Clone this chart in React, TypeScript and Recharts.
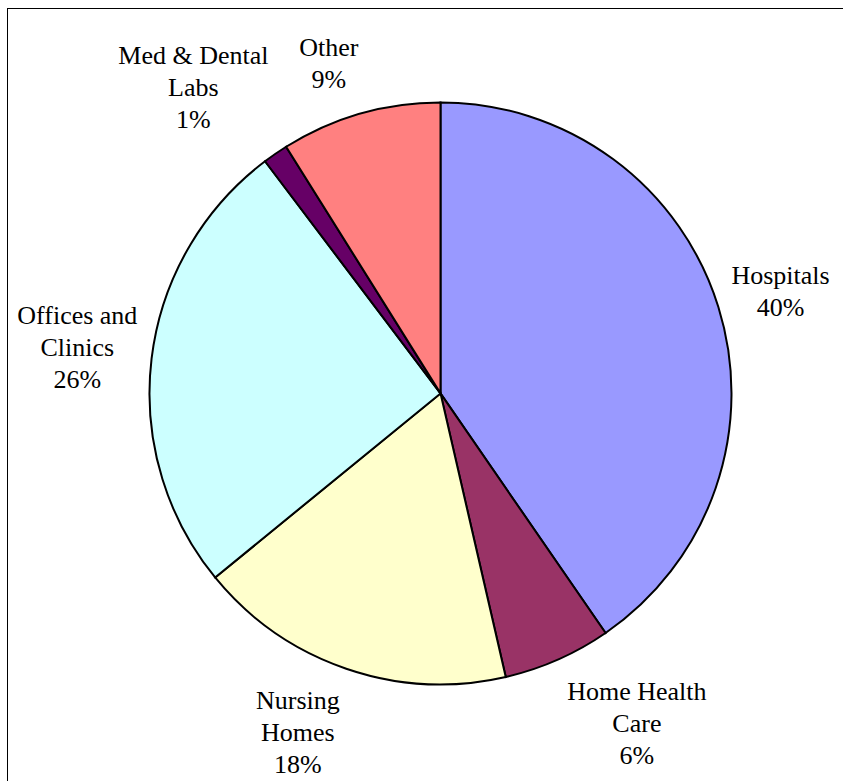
import { PieChart, Pie, Cell } from 'recharts'

// categories (line breaks follow the wrapped labels in the original)
const categories = [
  'Hospitals',
  'Home Health\nCare',
  'Nursing\nHomes',
  'Offices and\nClinics',
  'Med & Dental\nLabs',
  'Other',
]
const shares = [40.4, 6.0, 17.7, 25.6, 1.4, 8.9]
const colors = ['#9999FF', '#993366', '#FFFFCC', '#CCFFFF', '#660066', '#FF8080']

// label placement: distance from centre and angular nudge (degrees, clockwise)
const labelDist = [355, 384, 368, 366, 393, 348]
const labelNudge = [0.6, -7, 3.9, 0.3, -4.4, -2.7]

const data = categories.map((name, i) => ({ name, value: shares[i] }))

const FONT = '"Liberation Serif", "Times New Roman", serif'
const LINE_H = 32
const CAP_H = 17

function SliceLabel(props: any) {
  const { cx, cy, midAngle, percent, index } = props
  const clock = ((90 - midAngle + labelNudge[index]) * Math.PI) / 180
  const d = labelDist[index]
  const x = cx + d * Math.sin(clock)
  const y = cy - d * Math.cos(clock)
  const lines = [...categories[index].split('\n'), `${Math.round(percent * 100)}%`]
  const top = y - (CAP_H + (lines.length - 1) * LINE_H) / 2
  return (
    <g>
      {lines.map((t, i) => (
        <text
          key={i}
          x={x}
          y={top + CAP_H + i * LINE_H}
          textAnchor="middle"
          fill="#000"
          style={{ fontFamily: FONT, fontSize: 26 }}
        >
          {t}
        </text>
      ))}
    </g>
  )
}

export default function App() {
  return (
    <div
      style={{
        position: 'absolute',
        left: 0,
        top: 0,
        width: 843,
        height: 781,
        overflow: 'hidden',
        background: '#fff',
      }}
    >
      <div
        style={{
          position: 'absolute',
          left: 7,
          top: 8,
          right: 0,
          bottom: 0,
          borderLeft: '1px solid #000',
          borderTop: '1px solid #000',
        }}
      />
      <div style={{ position: 'absolute', left: 0, top: 0 }}>
        <PieChart width={843} height={781} margin={{ top: 0, right: 0, bottom: 0, left: 0 }}>
          <Pie
            data={data}
            dataKey="value"
            nameKey="name"
            cx={440.5}
            cy={393.4}
            outerRadius={291}
            startAngle={90}
            endAngle={-270}
            stroke="#000"
            strokeWidth={2}
            label={SliceLabel}
            labelLine={false}
            isAnimationActive={false}
          >
            {data.map((d, i) => (
              <Cell key={d.name} fill={colors[i]} stroke="#000" strokeWidth={2} />
            ))}
          </Pie>
        </PieChart>
      </div>
    </div>
  )
}
